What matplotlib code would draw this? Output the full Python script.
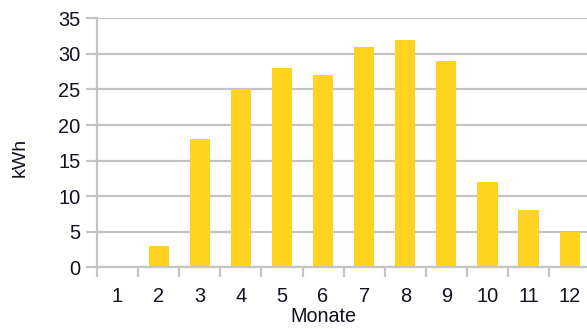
import matplotlib
matplotlib.use("Agg")
import matplotlib.pyplot as plt
from matplotlib.ticker import FixedLocator, NullFormatter, FixedFormatter

plt.rcParams['font.family'] = ['Liberation Sans', 'DejaVu Sans']

months = ["1", "2", "3", "4", "5", "6", "7", "8", "9", "10", "11", "12"]
kwh = [0, 3, 18, 25, 28, 27, 31, 32, 29, 12, 8, 5]
y_ticks = [0, 5, 10, 15, 20, 25, 30, 35]

W, H = 587, 329
fig = plt.figure(figsize=(W / 100, H / 100), dpi=100)

left, right, bottom, top = 97, 590.2, 267.3, 18.3
ax = fig.add_axes([left / W, 1 - bottom / H, (right - left) / W, (bottom - top) / H])

grid_c = "#c4c4c4"
bar_c = "#ffd320"
text_c = "#111122"

x = list(range(len(months)))
ax.bar(x, kwh, width=0.49, color=bar_c, zorder=3)

ax.set_xlim(-0.5, len(months) - 0.5)
ax.set_ylim(0, 35)

# y axis: grid lines with outward ticks
ax.set_yticks(y_ticks)
ax.set_yticklabels([str(v) for v in y_ticks])
ax.yaxis.grid(True, color=grid_c, linewidth=1.6, zorder=0)
ax.tick_params(axis='y', direction='out', length=8, width=1.6, color=grid_c,
               labelsize=14.4, labelcolor=text_c, pad=4)

# x axis: ticks at category boundaries, labels at category centres
ax.xaxis.set_major_locator(FixedLocator([i - 0.5 for i in range(len(months) + 1)]))
ax.xaxis.set_major_formatter(NullFormatter())
ax.xaxis.set_minor_locator(FixedLocator(x))
ax.xaxis.set_minor_formatter(FixedFormatter(months))
ax.tick_params(axis='x', which='major', direction='out', length=7, width=1.6, color=grid_c)
ax.tick_params(axis='x', which='minor', length=0, labelsize=14.4, labelcolor=text_c, pad=14)

for side in ("top", "right"):
    ax.spines[side].set_visible(False)
for side in ("left", "bottom"):
    ax.spines[side].set_color(grid_c)
    ax.spines[side].set_linewidth(1.6)
    ax.spines[side].set_zorder(4)

fig.text(323 / W, 1 - 317 / H, "Monate", ha="center", va="center", fontsize=14.2, color=text_c)
fig.text(20 / W, 1 - 157 / H, "kWh", ha="center", va="center", rotation=90, fontsize=14, color=text_c)

fig.savefig("out.png", dpi=100)
